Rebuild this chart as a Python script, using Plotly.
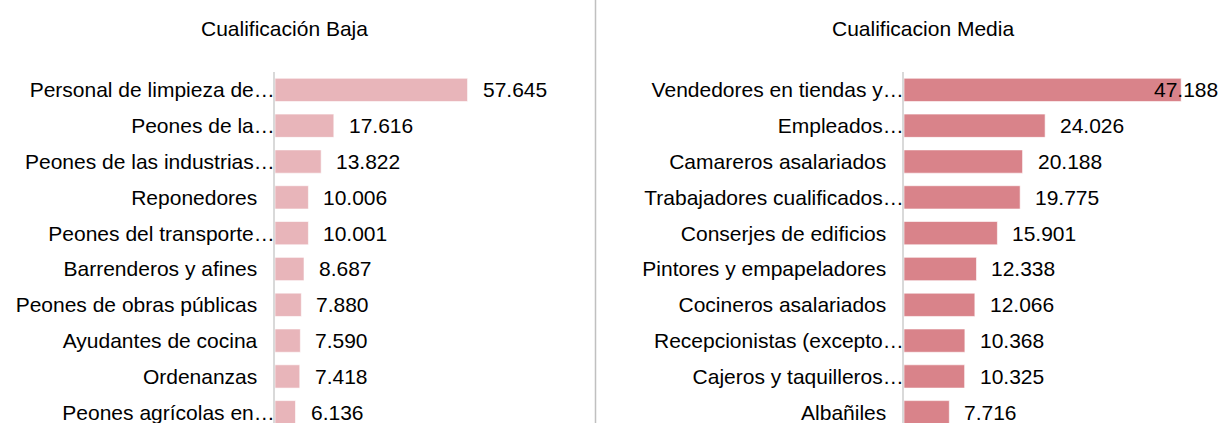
import plotly.graph_objects as go

# ---- data ----
low_title = "Cualificación Baja"
low_labels = [
    "Personal de limpieza de…",
    "Peones de la…",
    "Peones de las industrias…",
    "Reponedores",
    "Peones del transporte…",
    "Barrenderos y afines",
    "Peones de obras públicas",
    "Ayudantes de cocina",
    "Ordenanzas",
    "Peones agrícolas en…",
]
low_values = [57645, 17616, 13822, 10006, 10001, 8687, 7880, 7590, 7418, 6136]

mid_title = "Cualificacion Media"
mid_labels = [
    "Vendedores en tiendas y…",
    "Empleados…",
    "Camareros asalariados",
    "Trabajadores cualificados…",
    "Conserjes de edificios",
    "Pintores y empapeladores",
    "Cocineros asalariados",
    "Recepcionistas (excepto…",
    "Cajeros y taquilleros…",
    "Albañiles",
]
mid_values = [47188, 24026, 20188, 19775, 15901, 12338, 12066, 10368, 10325, 7716]

# ---- style ----
W, H = 1220, 423
TOP = 72
FONT = "Liberation Sans, Arial, sans-serif"
FS = 21
LOW_COLOR = "#E8B5BA"
MID_COLOR = "#D9838A"
AXIS_COLOR = "#D9D9D9"

low_dom = [275 / W, 590 / W]
mid_dom = [904 / W, 1.0]
low_rng = [0, 94300]
mid_rng = [0, 53800]


def fmt(v):
    return f"{v:,}".replace(",", ".")


def pad_label(s):
    # non-truncated labels sit a bit further from the axis
    return s if s.endswith("…") else s + "\u00a0\u00a0\u00a0"


fig = go.Figure()
fig.add_trace(go.Bar(
    x=low_values, y=list(range(len(low_labels))), orientation="h",
    marker=dict(color=LOW_COLOR, line=dict(color="rgba(255,255,255,0.6)", width=1)),
    width=0.65, xaxis="x", yaxis="y", hoverinfo="skip", showlegend=False,
))
fig.add_trace(go.Bar(
    x=mid_values, y=list(range(len(mid_labels))), orientation="h",
    marker=dict(color=MID_COLOR, line=dict(color="rgba(255,255,255,0.6)", width=1)),
    width=0.65, xaxis="x2", yaxis="y2", hoverinfo="skip", showlegend=False,
))

yrange = [9.30, -0.5]
common_y = dict(range=yrange, autorange=False, showgrid=False, zeroline=False,
                showline=True, linecolor=AXIS_COLOR, linewidth=2, ticks="",
                tickfont=dict(family=FONT, size=FS, color="#000000"),
                ticklabelstandoff=-6, ticklabeloverflow="allow")
common_x = dict(showgrid=False, zeroline=False, showline=False, showticklabels=False,
                ticks="", autorange=False)

fig.update_layout(
    width=W, height=H,
    margin=dict(l=0, r=0, t=TOP, b=0),
    paper_bgcolor="white", plot_bgcolor="white",
    bargap=0.35,
    xaxis=dict(domain=low_dom, range=low_rng, anchor="y", **common_x),
    xaxis2=dict(domain=mid_dom, range=mid_rng, anchor="y2", **common_x),
    yaxis=dict(anchor="x", tickmode="array", tickvals=list(range(len(low_labels))),
               ticktext=[pad_label(s) for s in low_labels], **common_y),
    yaxis2=dict(anchor="x2", tickmode="array", tickvals=list(range(len(mid_labels))),
                ticktext=[pad_label(s) for s in mid_labels], **common_y),
    font=dict(family=FONT, size=FS, color="#000000"),
)

plot_h = H - TOP
annotations = []


def add_values(values, dom, rng, xref, yref):
    px_per_unit = (dom[1] - dom[0]) * W / (rng[1] - rng[0])
    text_w = 66
    gap = 13
    for i, v in enumerate(values):
        end_px = dom[0] * W + v * px_per_unit
        if end_px + gap + text_w > W - 2:
            annotations.append(dict(x=1.0, xref="paper", y=i, yref=yref, text=fmt(v),
                                    xanchor="right", yanchor="middle", showarrow=False,
                                    xshift=0, font=dict(family=FONT, size=FS, color="#000")))
        else:
            annotations.append(dict(x=v, xref=xref, y=i, yref=yref, text=fmt(v),
                                    xanchor="left", yanchor="middle", showarrow=False,
                                    xshift=gap, font=dict(family=FONT, size=FS, color="#000")))


add_values(low_values, low_dom, low_rng, "x", "y")
add_values(mid_values, mid_dom, mid_rng, "x2", "y2")

title_y = 1 + (TOP - 28) / plot_h
annotations.append(dict(x=284 / W, xref="paper", y=title_y, yref="paper", text=low_title,
                        xanchor="center", yanchor="middle", showarrow=False,
                        font=dict(family=FONT, size=FS, color="#000")))
annotations.append(dict(x=923 / W, xref="paper", y=title_y, yref="paper", text=mid_title,
                        xanchor="center", yanchor="middle", showarrow=False,
                        font=dict(family=FONT, size=FS, color="#000")))
fig.update_layout(annotations=annotations)

fig.add_shape(type="line", xref="paper", yref="paper",
              x0=595.5 / W, x1=595.5 / W, y0=0, y1=1 + TOP / plot_h,
              line=dict(color="#C0C0C0", width=1.5))

fig.write_html(
    "out.html",
    config={"displayModeBar": False},
    post_script="document.body.style.margin='0';document.body.style.overflow='hidden';",
)
